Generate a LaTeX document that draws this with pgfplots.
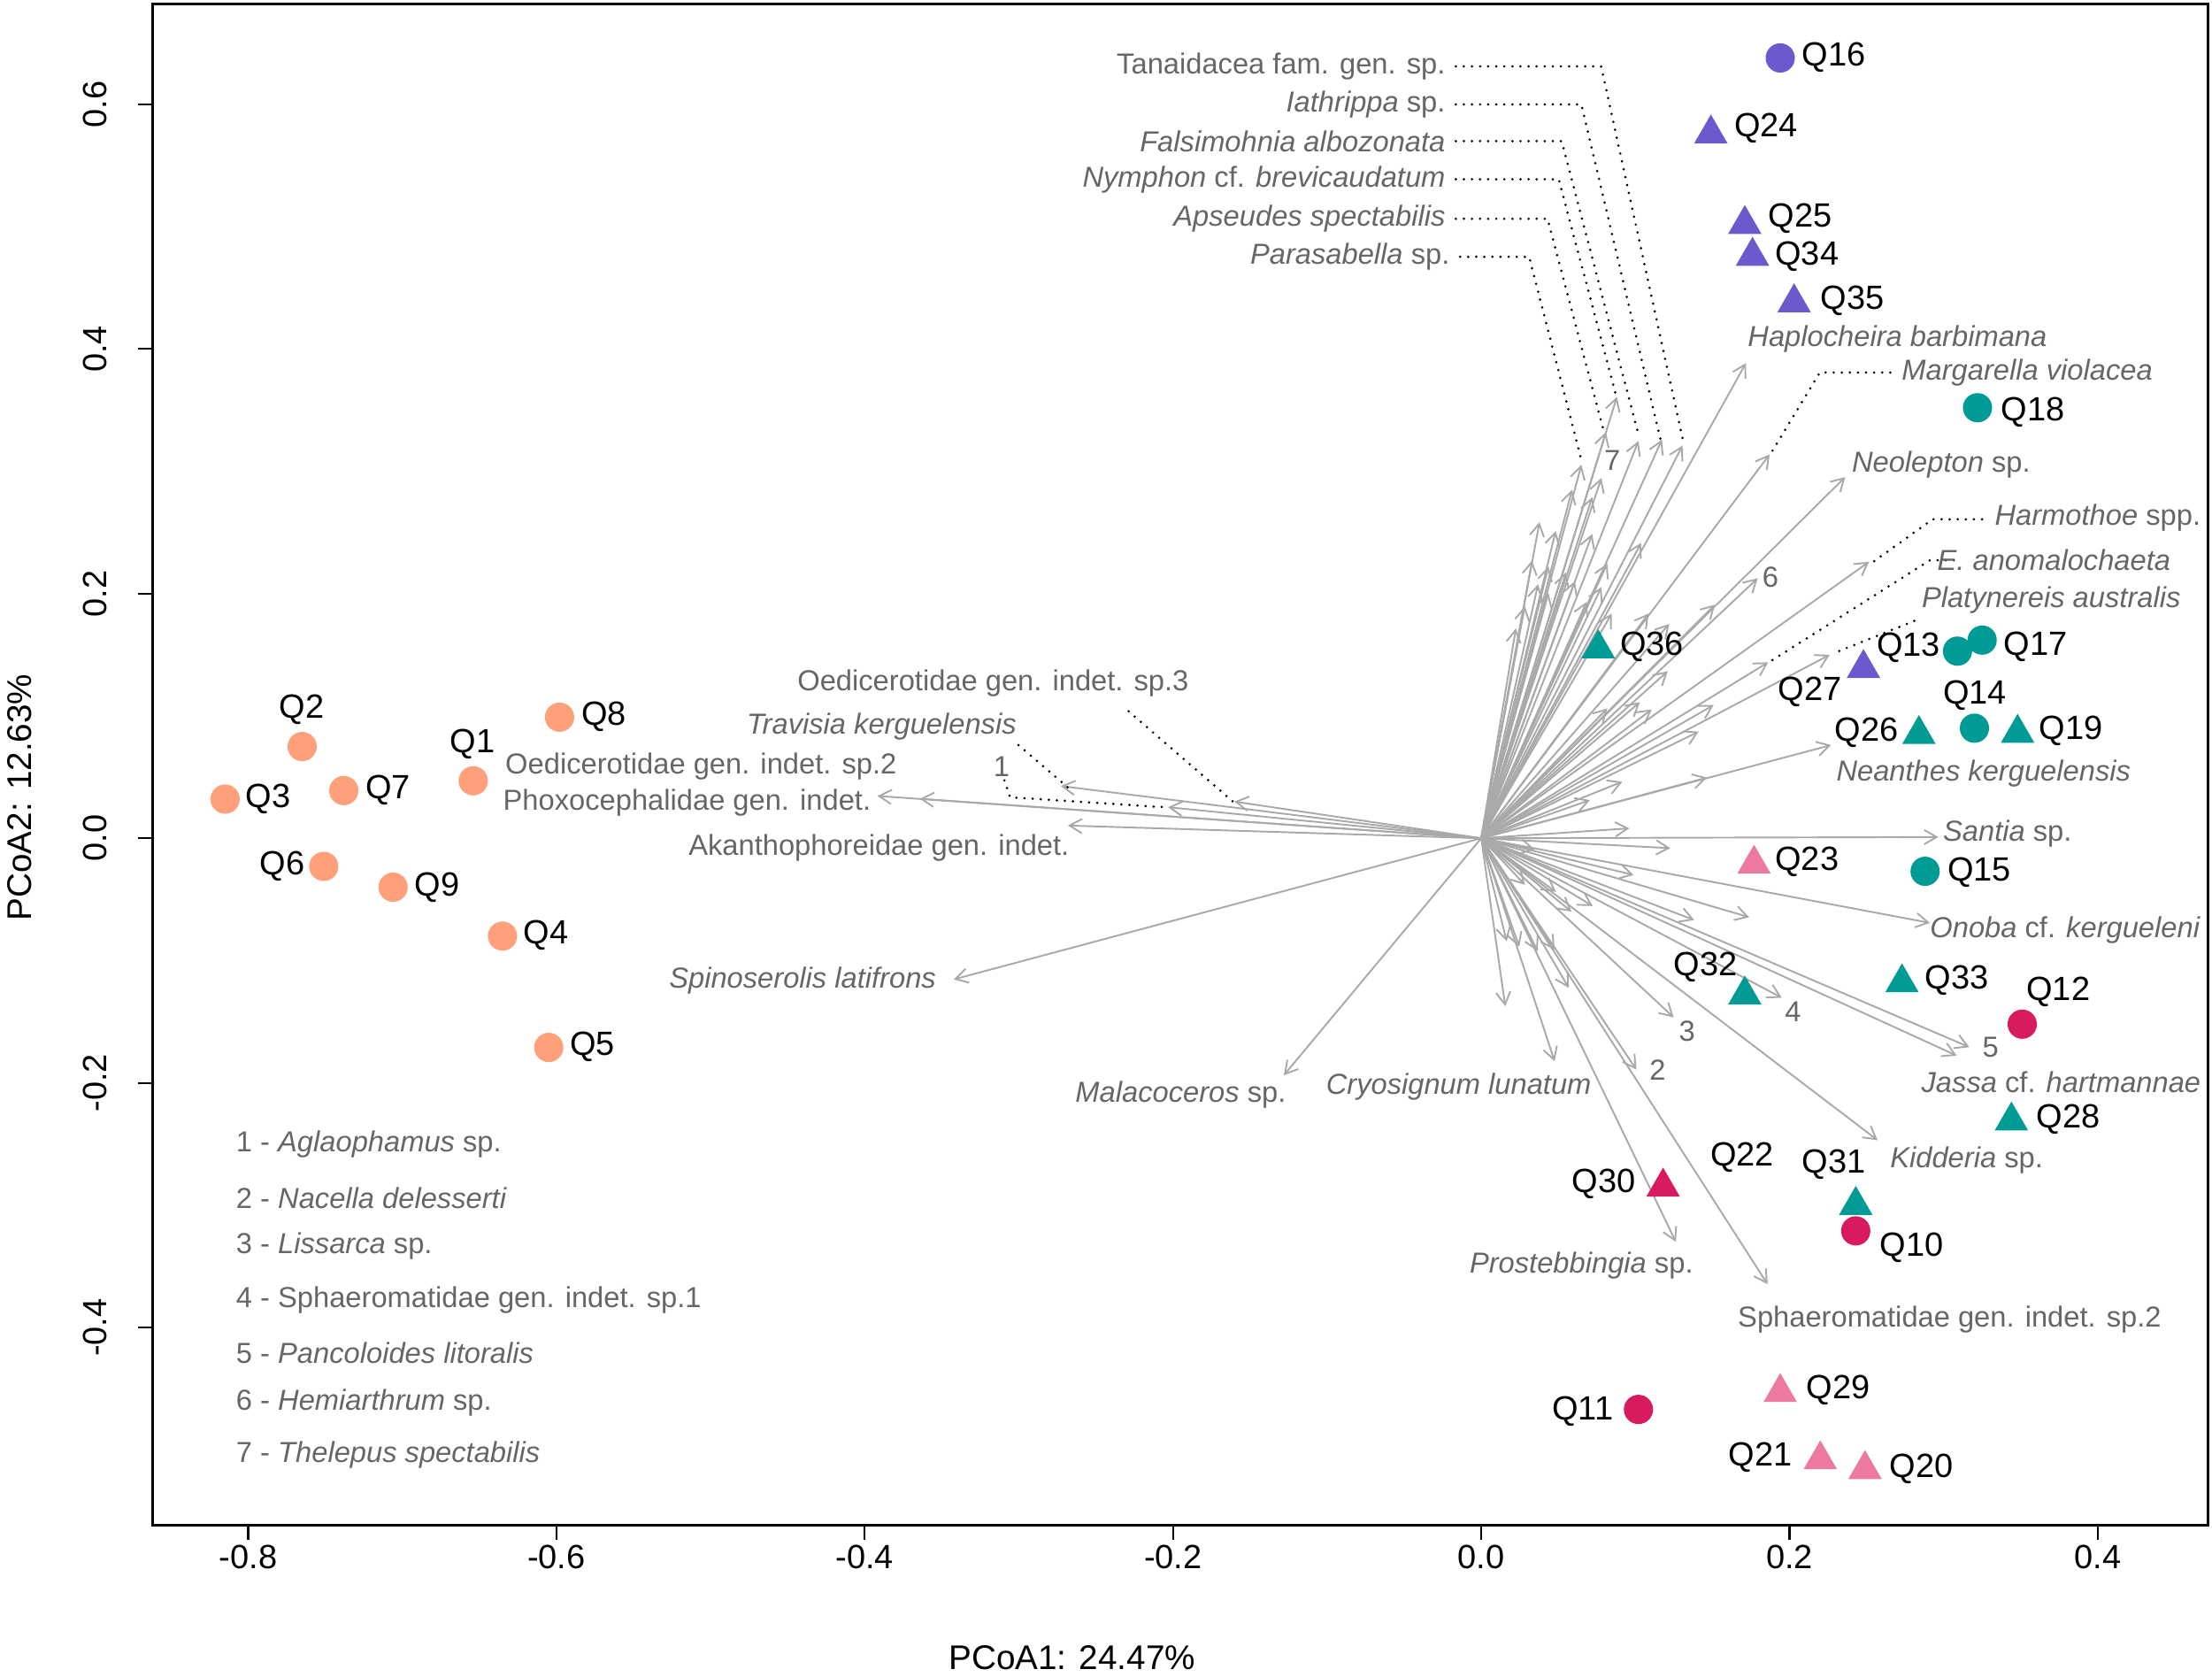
\documentclass[border=0pt]{standalone}
\usepackage{fontspec}
\setmainfont{Liberation Sans}
\usepackage{pgfplots}
\usepackage{pgfplotstable}
\pgfplotsset{compat=1.18}
\usetikzlibrary{arrows.meta,calc}

\definecolor{cOr}{HTML}{FFA07A}
\definecolor{cPu}{HTML}{6A5ACD}
\definecolor{cTe}{HTML}{009B95}
\definecolor{cCr}{HTML}{D81B60}
\definecolor{cPk}{HTML}{EE799F}
\definecolor{arrc}{HTML}{A9A9A9}
\definecolor{spc}{HTML}{666666}

% species vectors (tips), all starting at the origin
\pgfplotstableread{
x y u v
0 0 -0.3918 0.0346
0 0 -0.3643 0.0323
0 0 -0.2728 0.0427
0 0 -0.2032 0.0254
0 0 -0.1602 0.0300
0 0 -0.2682 0.0104
0 0 -0.3423 -0.1154
0 0 -0.1281 -0.1938
0 0 0.0650 0.3054
0 0 0.0809 0.3320
0 0 0.0880 0.3609
0 0 0.1020 0.3248
0 0 0.1173 0.3260
0 0 0.1306 0.3211
0 0 0.1718 0.3886
0 0 0.0589 0.2850
0 0 0.0780 0.2946
0 0 0.0378 0.2585
0 0 0.0483 0.2512
0 0 0.0720 0.2789
0 0 0.0720 0.2488
0 0 0.0330 0.2271
0 0 0.0436 0.2222
0 0 0.0550 0.2174
0 0 0.0818 0.2247
0 0 0.1038 0.2415
0 0 0.0369 0.2077
0 0 0.0283 0.1897
0 0 0.0225 0.1716
0 0 0.0436 0.2005
0 0 0.0608 0.2102
0 0 0.0684 0.1933
0 0 0.0780 0.2054
0 0 0.0847 0.1837
0 0 0.1086 0.1837
0 0 0.1220 0.1753
0 0 0.1517 0.1910
0 0 0.1794 0.2126
0 0 0.1871 0.3138
0 0 0.2362 0.2954
0 0 0.2517 0.2261
0 0 0.1862 0.1439
0 0 0.2261 0.1500
0 0 0.2270 0.0762
0 0 0.1210 0.1366
0 0 0.1029 0.1113
0 0 0.1106 0.1053
0 0 0.1508 0.1089
0 0 0.1411 0.0872
0 0 0.0818 0.1062
0 0 0.1465 0.0496
0 0 0.0915 0.0462
0 0 0.0705 0.0312
0 0 0.2966 0.0010
0 0 0.0961 0.0081
0 0 0.1227 -0.0081
0 0 0.2911 -0.0692
0 0 0.0989 -0.0300
0 0 0.1739 -0.0646
0 0 0.1382 -0.0669
0 0 0.0723 -0.0554
0 0 0.0586 -0.0600
0 0 0.0348 -0.0092
0 0 0.0284 -0.0381
0 0 0.0485 -0.0438
0 0 0.0165 -0.0842
0 0 0.0247 -0.0888
0 0 0.0366 -0.0923
0 0 0.0476 -0.0912
0 0 0.0568 -0.1223
0 0 0.0156 -0.1373
0 0 0.0476 -0.1823
0 0 0.1007 -0.1892
0 0 0.1249 -0.1465
0 0 0.1950 -0.1304
0 0 0.3167 -0.1708
0 0 0.3085 -0.1777
0 0 0.2572 -0.2469
0 0 0.1858 -0.3646
0 0 0.1263 -0.3300
}\vectab

\begin{document}
\begin{tikzpicture}[
  qlab/.style={font=\fontsize{10.8}{13}\selectfont, inner sep=0pt},
  slab/.style={font=\fontsize{9.3}{11}\selectfont, text=spc, inner sep=0pt},
  lead/.style={black, line width=0.85pt, line cap=round, dash pattern=on 0pt off 2.6pt, no markers},
]
\begin{axis}[
  name=ax,
  scale only axis,
  width=23.23cm, height=17.19cm,
  xmin=-0.8622, xmax=0.4714,
  ymin=-0.5619, ymax=0.6819,
  clip=false,
  axis line style={line width=0.8pt},
  tick style={black, line width=0.6pt},
  tick align=outside,
  major tick length=4.5pt,
  xtick pos=lower, ytick pos=left,
  xtick={-0.8,-0.6,-0.4,-0.2,0,0.2,0.4},
  xticklabels={-0.8,-0.6,-0.4,-0.2,0.0,0.2,0.4},
  ytick={-0.4,-0.2,0,0.2,0.4,0.6},
  yticklabels={-0.4,-0.2,0.0,0.2,0.4,0.6},
  ticklabel style={font=\fontsize{10.8}{13}\selectfont, inner sep=0pt},
  xticklabel shift=1.5pt,
  yticklabel style={rotate=90, anchor=south},
  yticklabel shift=10pt,
  xlabel={PCoA1: 24.47\%},
  ylabel={PCoA2: 12.63\%},
  label style={font=\fontsize{11}{13}\selectfont},
  xlabel style={at={(axis description cs:0.4475,-0.087)}, anchor=center},
  ylabel style={at={(axis description cs:-0.0645,0.4787)}, anchor=center},
]

% vectors
\addplot[draw=arrc, line width=0.55pt, no markers,
  -{Straight Barb[length=4pt,width=4.6pt]},
  quiver={u=\thisrow{u}, v=\thisrow{v}}] table[x=x, y=y] {\vectab};

% dotted leaders
\addplot[lead] coordinates {(-0.0165,0.6311) (0.0778,0.6311) (0.1309,0.3254)};
\addplot[lead] coordinates {(-0.0165,0.6000) (0.0650,0.6000) (0.1162,0.3265)};
\addplot[lead] coordinates {(-0.0165,0.5700) (0.0522,0.5700) (0.1025,0.3277)};
\addplot[lead] coordinates {(-0.0165,0.5388) (0.0503,0.5388) (0.0879,0.3600)};
\addplot[lead] coordinates {(-0.0165,0.5065) (0.0430,0.5065) (0.0796,0.3323)};
\addplot[lead] coordinates {(-0.0137,0.4754) (0.0311,0.4754) (0.0650,0.3092)};
\addplot[lead] coordinates {(0.2654,0.3808) (0.2197,0.3808) (0.1886,0.3161)};
\addplot[lead] coordinates {(0.3249,0.2608) (0.2929,0.2608) (0.2545,0.2261)};
\addplot[lead] coordinates {(0.3066,0.2273) (0.2911,0.2273) (0.1886,0.1454)};
\addplot[lead] coordinates {(0.2810,0.1777) (0.2307,0.1523)};
\addplot[lead] coordinates {(-0.3002,0.0762) (-0.2682,0.0415)};
\addplot[lead] coordinates {(-0.3094,0.0473) (-0.3057,0.0335) (-0.2059,0.0254)};
\addplot[lead] coordinates {(-0.2288,0.1038) (-0.1611,0.0300)};

% sites
\addplot[only marks, mark=*, mark size=4.5pt, mark options={draw=cOr, fill=cOr}] coordinates {
 (-0.654,0.047) (-0.765,0.075) (-0.815,0.032) (-0.635,-0.080) (-0.605,-0.171)
 (-0.751,-0.023) (-0.738,0.039) (-0.598,0.099) (-0.706,-0.040)};
\addplot[only marks, mark=*, mark size=4.5pt, mark options={draw=cPu, fill=cPu}] coordinates {(0.194,0.638)};
\addplot[only marks, mark=triangle*, mark size=5.8pt, mark options={draw=cPu, fill=cPu}] coordinates {
 (0.149,0.576) (0.171,0.502) (0.176,0.476) (0.203,0.438) (0.248,0.139)};
\addplot[only marks, mark=*, mark size=4.5pt, mark options={draw=cTe, fill=cTe}] coordinates {
 (0.322,0.352) (0.309,0.153) (0.325,0.162) (0.320,0.090) (0.288,-0.027)};
\addplot[only marks, mark=triangle*, mark size=5.8pt, mark options={draw=cTe, fill=cTe}] coordinates {
 (0.076,0.155) (0.348,0.086) (0.284,0.085) (0.273,-0.118) (0.171,-0.128) (0.344,-0.231) (0.243,-0.300)};
\addplot[only marks, mark=*, mark size=4.5pt, mark options={draw=cCr, fill=cCr}] coordinates {
 (0.351,-0.152) (0.243,-0.321) (0.102,-0.467)};
\addplot[only marks, mark=triangle*, mark size=5.8pt, mark options={draw=cCr, fill=cCr}] coordinates {(0.118,-0.285)};
\addplot[only marks, mark=triangle*, mark size=5.8pt, mark options={draw=cPk, fill=cPk}] coordinates {
 (0.177,-0.021) (0.194,-0.453) (0.220,-0.508) (0.249,-0.516)};

% site labels
\node[qlab] at (axis cs:-0.6545,0.0773) {Q1};
\node[qlab] at (axis cs:-0.7652,0.1050) {Q2};
\node[qlab] at (axis cs:-0.7872,0.0323) {Q3};
\node[qlab] at (axis cs:-0.6069,-0.0796) {Q4};
\node[qlab] at (axis cs:-0.5767,-0.1708) {Q5};
\node[qlab] at (axis cs:-0.7780,-0.0231) {Q6};
\node[qlab] at (axis cs:-0.7094,0.0392) {Q7};
\node[qlab] at (axis cs:-0.5693,0.0992) {Q8};
\node[qlab] at (axis cs:-0.6773,-0.0404) {Q9};
\node[qlab] at (axis cs:0.2288,0.6381) {Q16};
\node[qlab] at (axis cs:0.1849,0.5804) {Q24};
\node[qlab] at (axis cs:0.2069,0.5065) {Q25};
\node[qlab] at (axis cs:0.2114,0.4754) {Q34};
\node[qlab] at (axis cs:0.2407,0.4396) {Q35};
\node[qlab] at (axis cs:0.3579,0.3484) {Q18};
\node[qlab] at (axis cs:0.1108,0.1569) {Q36};
\node[qlab] at (axis cs:0.2773,0.1558) {Q13};
\node[qlab] at (axis cs:0.3597,0.1569) {Q17};
\node[qlab] at (axis cs:0.2133,0.1200) {Q27};
\node[qlab] at (axis cs:0.3204,0.1165) {Q14};
\node[qlab] at (axis cs:0.2499,0.0865) {Q26};
\node[qlab] at (axis cs:0.3826,0.0877) {Q19};
\node[qlab] at (axis cs:0.2114,-0.0196) {Q23};
\node[qlab] at (axis cs:0.3231,-0.0277) {Q15};
\node[qlab] at (axis cs:0.3085,-0.1165) {Q33};
\node[qlab] at (axis cs:0.1455,-0.1050) {Q32};
\node[qlab] at (axis cs:0.3744,-0.1258) {Q12};
\node[qlab] at (axis cs:0.3808,-0.2296) {Q28};
\node[qlab] at (axis cs:0.1693,-0.2608) {Q22};
\node[qlab] at (axis cs:0.2288,-0.2665) {Q31};
\node[qlab] at (axis cs:0.0796,-0.2827) {Q30};
\node[qlab] at (axis cs:0.2792,-0.3346) {Q10};
\node[qlab] at (axis cs:0.0659,-0.4685) {Q11};
\node[qlab] at (axis cs:0.2316,-0.4511) {Q29};
\node[qlab] at (axis cs:0.1812,-0.5065) {Q21};
\node[qlab] at (axis cs:0.2856,-0.5158) {Q20};

% species labels
\node[slab, anchor=east] at (axis cs:-0.0229,0.6311) {Tanaidacea fam. gen. sp.};
\node[slab, anchor=east] at (axis cs:-0.0229,0.6000) {\textit{Iathrippa} sp.};
\node[slab, anchor=east] at (axis cs:-0.0229,0.5700) {\textit{Falsimohnia albozonata}};
\node[slab, anchor=east] at (axis cs:-0.0229,0.5388) {\textit{Nymphon} cf. \textit{brevicaudatum}};
\node[slab, anchor=east] at (axis cs:-0.0229,0.5065) {\textit{Apseudes spectabilis}};
\node[slab, anchor=east] at (axis cs:-0.0201,0.4754) {\textit{Parasabella} sp.};
\node[slab] at (axis cs:0.2700,0.4085) {\textit{Haplocheira barbimana}};
\node[slab] at (axis cs:0.3542,0.3808) {\textit{Margarella violacea}};
\node[slab] at (axis cs:0.2984,0.3058) {\textit{Neolepton} sp.};
\node[slab] at (axis cs:0.4000,0.2619) {\textit{Harmothoe} spp.};
\node[slab] at (axis cs:0.3716,0.2273) {\textit{E. anomalochaeta}};
\node[slab] at (axis cs:0.3698,0.1950) {\textit{Platynereis australis}};
\node[slab] at (axis cs:0.3259,0.0531) {\textit{Neanthes kerguelensis}};
\node[slab] at (axis cs:0.3414,0.0035) {\textit{Santia} sp.};
\node[slab] at (axis cs:0.3789,-0.0750) {\textit{Onoba} cf. \textit{kergueleni}};
\node[slab] at (axis cs:0.3762,-0.1996) {\textit{Jassa} cf. \textit{hartmannae}};
\node[slab] at (axis cs:0.3149,-0.2631) {\textit{Kidderia} sp.};
\node[slab] at (axis cs:0.3039,-0.3934) {Sphaeromatidae gen. indet. sp.2};
\node[slab] at (axis cs:0.0650,-0.3496) {\textit{Prostebbingia} sp.};
\node[slab] at (axis cs:-0.0146,-0.2031) {\textit{Cryosignum lunatum}};
\node[slab] at (axis cs:-0.1950,-0.2100) {\textit{Malacoceros} sp.};
\node[slab] at (axis cs:-0.4403,-0.1165) {\textit{Spinoserolis latifrons}};
\node[slab] at (axis cs:-0.3908,-0.0081) {Akanthophoreidae gen. indet.};
\node[slab] at (axis cs:-0.5153,0.0288) {Phoxocephalidae gen. indet.};
\node[slab] at (axis cs:-0.5062,0.0588) {Oedicerotidae gen. indet. sp.2};
\node[slab] at (axis cs:-0.3890,0.0912) {\textit{Travisia kerguelensis}};
\node[slab] at (axis cs:-0.3167,0.1269) {Oedicerotidae gen. indet. sp.3};
\node[slab] at (axis cs:-0.3112,0.0588) {1};
\node[slab] at (axis cs:0.1144,-0.1892) {2};
\node[slab] at (axis cs:0.1336,-0.1581) {3};
\node[slab] at (axis cs:0.2023,-0.1419) {4};
\node[slab] at (axis cs:0.3304,-0.1708) {5};
\node[slab] at (axis cs:0.1876,0.2135) {6};
\node[slab] at (axis cs:0.0851,0.3086) {7};

% key to numbered vectors
\node[slab, anchor=west] at (axis cs:-0.8082,-0.2504) {1 - \textit{Aglaophamus} sp.};
\node[slab, anchor=west] at (axis cs:-0.8082,-0.2942) {2 - \textit{Nacella delesserti}};
\node[slab, anchor=west] at (axis cs:-0.8082,-0.3334) {3 - \textit{Lissarca} sp.};
\node[slab, anchor=west] at (axis cs:-0.8082,-0.3773) {4 - Sphaeromatidae gen. indet. sp.1};
\node[slab, anchor=west] at (axis cs:-0.8082,-0.4211) {5 - \textit{Pancoloides litoralis}};
\node[slab, anchor=west] at (axis cs:-0.8082,-0.4615) {6 - \textit{Hemiarthrum} sp.};
\node[slab, anchor=west] at (axis cs:-0.8082,-0.5042) {7 - \textit{Thelepus spectabilis}};
\end{axis}
\pgfresetboundingbox
\path[use as bounding box] ($(ax.south west)+(-1.722cm,-1.706cm)$) rectangle ($(ax.north east)+(0.048cm,0.048cm)$);
\end{tikzpicture}
\end{document}
